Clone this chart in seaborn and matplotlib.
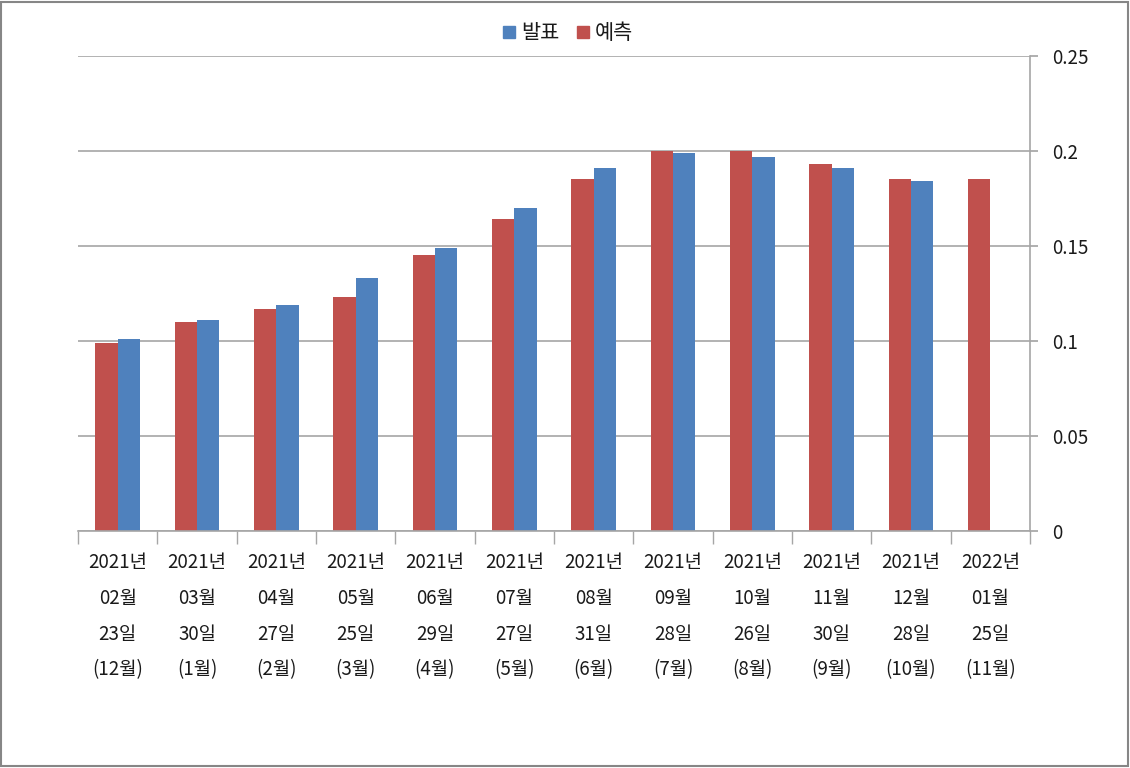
import numpy as np
import pandas as pd
import seaborn as sns
import matplotlib.pyplot as plt
from matplotlib.patches import Rectangle
from matplotlib.lines import Line2D

# labels (4 lines each) and values
categories = [
    "2021년\n02월\n23일\n(12월)", "2021년\n03월\n30일\n(1월)", "2021년\n04월\n27일\n(2월)",
    "2021년\n05월\n25일\n(3월)", "2021년\n06월\n29일\n(4월)", "2021년\n07월\n27일\n(5월)",
    "2021년\n08월\n31일\n(6월)", "2021년\n09월\n28일\n(7월)", "2021년\n10월\n26일\n(8월)",
    "2021년\n11월\n30일\n(9월)", "2021년\n12월\n28일\n(10월)", "2022년\n01월\n25일\n(11월)",
]
forecast = [0.099, 0.110, 0.117, 0.123, 0.145, 0.164, 0.185, 0.200, 0.200, 0.193, 0.185, 0.185]
actual = [0.101, 0.111, 0.119, 0.133, 0.149, 0.170, 0.191, 0.199, 0.197, 0.191, 0.184, np.nan]
yticks = [0, 0.05, 0.1, 0.15, 0.2, 0.25]
ytick_labels = ["0", "0.05", "0.1", "0.15", "0.2", "0.25"]

df = pd.DataFrame({
    "date": categories * 2,
    "value": forecast + actual,
    "series": ["예측"] * len(categories) + ["발표"] * len(categories),
})

sns.set_theme(style="white")
plt.rcParams['font.family'] = ['Noto Sans CJK KR', 'DejaVu Sans']

colors = {"예측": "#C0504D", "발표": "#4F81BD"}
grid_c = "#A6A6A6"
text_c = "#1a1a1a"

fig = plt.figure(figsize=(11.3, 7.68), dpi=100)
ax = fig.add_axes([0.069, 0.3086, 0.8425, 0.6185])

sns.barplot(data=df, x="date", y="value", hue="series", hue_order=["예측", "발표"],
            palette=colors, width=0.56, saturation=1, linewidth=0, ax=ax, legend=False)

ax.set_ylim(0, 0.25)
ax.set_xlim(-0.5, len(categories) - 0.5)
ax.yaxis.tick_right()
ax.set_yticks(yticks, ytick_labels)
ax.yaxis.grid(True, color=grid_c, linewidth=1.2)
ax.set_axisbelow(True)
ax.tick_params(axis="y", which="major", length=6, color=grid_c, labelsize=13.5,
               pad=10, labelcolor=text_c, right=True, left=False)

ax.set_xticks(range(len(categories)), categories)
ax.tick_params(axis="x", which="major", length=0, labelsize=13.5, pad=15, labelcolor=text_c)
for t in ax.get_xticklabels():
    t.set_linespacing(1.93)
    t.set_va("top")
ax.set_xticks(np.arange(-0.5, len(categories)), minor=True)
ax.tick_params(axis="x", which="minor", length=9, color=grid_c, bottom=True, direction="out")

for s in ["top", "left"]:
    ax.spines[s].set_visible(False)
for s in ["bottom", "right"]:
    ax.spines[s].set_color(grid_c)
    ax.spines[s].set_linewidth(1.2)
ax.set_xlabel("")
ax.set_ylabel("")

handles = [Line2D([], [], marker="s", linestyle="", markersize=9, color=colors["발표"]),
           Line2D([], [], marker="s", linestyle="", markersize=9, color=colors["예측"])]
fig.legend(handles, ["발표", "예측"], loc="center", bbox_to_anchor=(0.5, 0.957), ncol=2,
           frameon=False, fontsize=15, handletextpad=0.0, columnspacing=0.5,
           handlelength=1.2, labelcolor=text_c)

fig.patches.append(Rectangle((0.001, 0.002), 0.997, 0.996, transform=fig.transFigure,
                             fill=False, edgecolor="#868686", linewidth=1.5))

fig.savefig("out.png", dpi=100)
